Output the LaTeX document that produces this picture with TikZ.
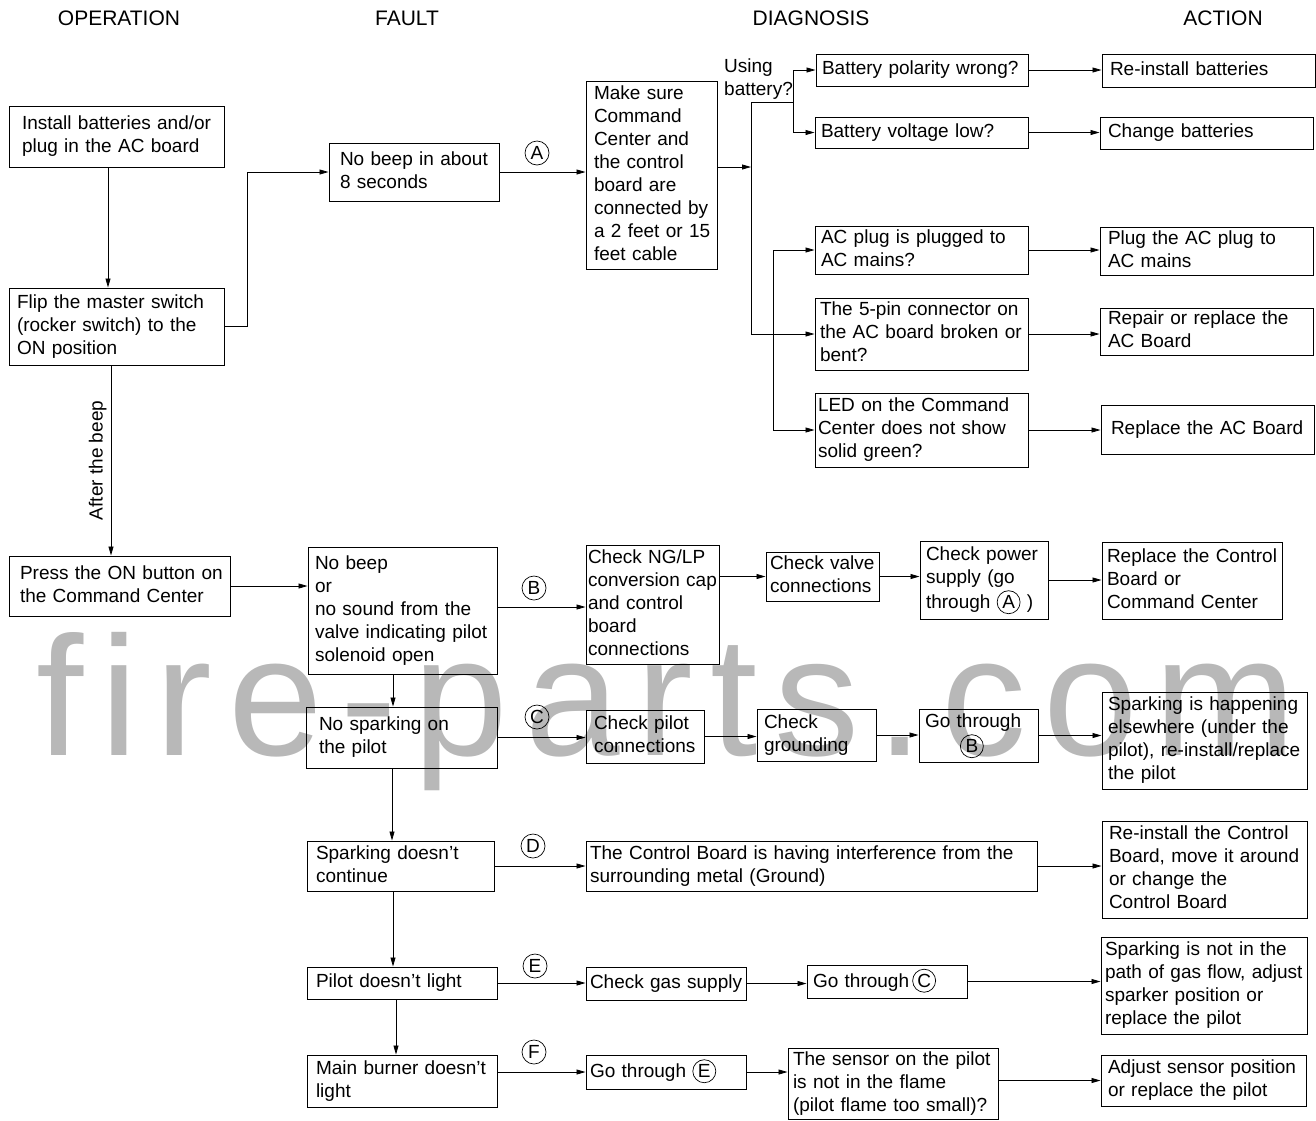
\documentclass[tikz,border=0pt]{standalone}
\usepackage{fontspec}
\setmainfont{Liberation Sans}
\usetikzlibrary{arrows.meta, positioning}

% 文本中的小圆圈字母
\newcommand{\inlbl}[2]{\tikz[baseline=(#1.base)]\node[circle, draw, line width=0.7pt, inner sep=0pt, minimum size=23pt] (#1) {#2};}
% 不换行的多行文本
\newcommand{\lns}[1]{\begin{tabular}{@{}l@{}}#1\end{tabular}}

\begin{document}
\begin{tikzpicture}[x=1pt, y=-1pt, >={Triangle[length=9pt, width=5pt]},
    box/.style={draw, line width=1pt, inner sep=0pt, align=left, font=\fontsize{19}{23}\selectfont},
    head/.style={anchor=base, font=\fontsize{21}{25}\selectfont},
    lbl/.style={circle, draw, line width=0.7pt, inner sep=0pt, minimum size=24pt, font=\fontsize{19}{23}\selectfont},
    conn/.style={line width=0.8pt, ->}]

\path[use as bounding box] (0,0) rectangle (1316,1120);

% 水印
\node[anchor=base west, inner sep=0pt, text=black!28, font=\fontsize{170}{170}\selectfont] (watermark) at (36,755) {\addfontfeature{LetterSpace=10}fire-parts.com};

% 标题
\node[head] (hop) at (119,25) {OPERATION};
\node[head] (hfault) at (407,25) {FAULT};
\node[head] (hdiag) at (811,25) {DIAGNOSIS};
\node[head] (hact) at (1223,25) {ACTION};

% 操作
\node[box, minimum width=215, minimum height=61, text width=189pt] (install) at (116.5,136.5) {\lns{Install batteries and/or\\plug in the AC board}};
\node[box, minimum width=215, minimum height=77, text width=199pt] (flip) at (116.5,326.5) {\lns{Flip the master switch\\(rocker switch) to the\\ON position}};
\node[box, minimum width=221, minimum height=60, text width=199pt] (press) at (119.5,586) {\lns{Press the ON button on\\the Command Center}};

% 故障
\node[box, minimum width=170, minimum height=58, text width=148pt] (nobeep) at (414,172) {\lns{No beep in about\\8 seconds}};
\node[box, minimum width=189, minimum height=127, text width=175pt] (nobeepor) at (402.5,610.5) {\lns{No beep\\or\\no sound from the\\valve indicating pilot\\solenoid open}};
\node[box, minimum width=191, minimum height=61, text width=165pt] (nospark) at (401.5,737.5) {\lns{No sparking on\\the pilot}};
\node[box, minimum width=187, minimum height=50, text width=169pt] (sparkcont) at (400.5,866) {\lns{Sparking doesn’t\\continue}};
\node[box, minimum width=190, minimum height=32, text width=172pt] (pilotlight) at (402,983) {\lns{Pilot doesn’t light}};
\node[box, minimum width=190, minimum height=52, text width=172pt] (mainburn) at (402,1081) {\lns{Main burner doesn’t\\light}};

% 诊断
\node[box, minimum width=131, minimum height=188, text width=115pt] (makesure) at (651.5,175) {\lns{Make sure\\Command\\Center and\\the control\\board are\\connected by\\a 2 feet or 15\\feet cable}};
\node[anchor=north west, inner sep=0pt, align=left, font=\fontsize{19}{23}\selectfont] (usebat) at (724,59) {Using\\battery?};
\node[box, minimum width=212, minimum height=32, text width=200pt] (polarity) at (922,70) {\lns{Battery polarity wrong?}};
\node[box, minimum width=213, minimum height=31, text width=201pt] (voltage) at (921.5,132.5) {\lns{Battery voltage low?}};
\node[box, minimum width=213, minimum height=48, text width=201pt] (acplug) at (921.5,250) {\lns{AC plug is plugged to\\AC mains?}};
\node[box, minimum width=213, minimum height=72, text width=203pt] (fivepin) at (921.5,334) {\lns{The 5-pin connector on\\the AC board broken or\\bent?}};
\node[box, minimum width=213, minimum height=74, text width=207pt] (led) at (921.5,430) {\lns{LED on the Command\\Center does not show\\solid green?}};

\node[box, minimum width=133, minimum height=119, text width=129pt] (checkng) at (652.5,604.5) {\lns{Check NG/LP\\conversion cap\\and control\\board\\connections}};
\node[box, minimum width=113, minimum height=49, text width=105pt] (checkvalve) at (822.5,576.5) {\lns{Check valve\\connections}};
\node[box, minimum width=128, minimum height=78, text width=116pt] (checkpower) at (984,580) {\lns{Check power\\supply (go\\through \inlbl{inA}{A} )}};

\node[box, minimum width=118, minimum height=53, text width=102pt] (checkpilot) at (645,736.5) {\lns{Check pilot\\connections}};
\node[box, minimum width=119, minimum height=52, text width=105pt] (checkground) at (816.5,735) {\lns{Check\\grounding}};
\node[box, minimum width=119, minimum height=53, text width=107pt] (gothroughB) at (978.5,735.5) {\lns{Go through\\\hspace*{35pt}\inlbl{inB}{B}}};

\node[box, minimum width=451, minimum height=50, text width=443pt] (ctrlboard) at (811.5,866) {\lns{The Control Board is having interference from the\\surrounding metal (Ground)}};

\node[box, minimum width=160, minimum height=33, text width=152pt] (checkgas) at (666,983.5) {\lns{Check gas supply}};
\node[box, minimum width=160, minimum height=33, text width=148pt] (gothroughC) at (887,981.5) {\lns{Go through\,\inlbl{inC}{C}}};

\node[box, minimum width=160, minimum height=34, text width=152pt] (gothroughE) at (666,1072) {\lns{Go through~\inlbl{inE}{E}}};
\node[box, minimum width=210, minimum height=71, text width=200pt] (sensor) at (893,1083.5) {\lns{The sensor on the pilot\\is not in the flame\\(pilot flame too small)?}};

% 处理
\node[box, minimum width=213, minimum height=33, text width=197pt] (reinst) at (1208.5,70.5) {\lns{Re-install batteries}};
\node[box, minimum width=213, minimum height=32, text width=197pt] (change) at (1206.5,133) {\lns{Change batteries}};
\node[box, minimum width=213, minimum height=48, text width=197pt] (plugac) at (1206.5,251) {\lns{Plug the AC plug to\\AC mains}};
\node[box, minimum width=213, minimum height=47, text width=197pt] (repair) at (1206.5,331.5) {\lns{Repair or replace the\\AC Board}};
\node[box, minimum width=213, minimum height=49, text width=193pt] (replaceac) at (1207.5,429.5) {\lns{Replace the AC Board}};
\node[box, minimum width=180, minimum height=77, text width=170pt] (replacectrl) at (1192,580.5) {\lns{Replace the Control\\Board or\\Command Center}};
\node[box, minimum width=205, minimum height=97, text width=193pt] (happening) at (1204.5,740.5) {\lns{Sparking is happening\\elsewhere (under the\\pilot), re-install/replace\\the pilot}};
\node[box, minimum width=205, minimum height=97, text width=191pt] (reinstctrl) at (1204.5,869.5) {\lns{Re-install the Control\\Board, move it around\\or change the\\Control Board}};
\node[box, minimum width=206, minimum height=97, text width=198pt] (sparknot) at (1204,985.5) {\lns{Sparking is not in the\\path of gas flow, adjust\\sparker position or\\replace the pilot}};
\node[box, minimum width=205, minimum height=51, text width=191pt] (adjust) at (1203.5,1080.5) {\lns{Adjust sensor position\\or replace the pilot}};

% 圆圈标记
\node[lbl] (lblA) at (537,153) {A};
\node[lbl] (lblB) at (534,588) {B};
\node[lbl] (lblC) at (537,717) {C};
\node[lbl] (lblD) at (533,846) {D};
\node[lbl] (lblE) at (535,966) {E};
\node[lbl] (lblF) at (534,1052) {F};

% 操作列连线
\draw[conn] ([xshift=-8.5pt]install.south) -- ([xshift=-8.5pt]flip.north);
\draw[conn] (flip.east) -- ++(23,0) |- (nobeep.west);
\draw[conn] ([xshift=-5.5pt]flip.south) -- ([xshift=-8.5pt]press.north)
    node[midway, rotate=90, anchor=south, inner sep=4pt, font=\fontsize{19}{23}\selectfont] (afterbeep) {After the beep};
\draw[conn] (press.east) -- (press.east -| nobeepor.west);

% 故障列连线
\draw[conn] ([xshift=-9.5pt]nobeepor.south) -- ([xshift=-8.5pt]nospark.north);
\draw[conn] ([xshift=-9.5pt]nospark.south) -- ([xshift=-8.5pt]sparkcont.north);
\draw[conn] ([xshift=-7.5pt]sparkcont.south) -- ([xshift=-9pt]pilotlight.north);
\draw[conn] ([xshift=-6pt]pilotlight.south) -- ([xshift=-6pt]mainburn.north);

\draw[conn] (nobeep.east) -- (nobeep.east -| makesure.west);
\draw[conn] ([yshift=3.5pt]nobeepor.east) -- ([yshift=3.5pt]nobeepor.east -| checkng.west);
\draw[conn] (nospark.east) -- (nospark.east -| checkpilot.west);
\draw[conn] (sparkcont.east) -- (sparkcont.east -| ctrlboard.west);
\draw[conn] (pilotlight.east) -- (pilotlight.east -| checkgas.west);
\draw[conn] (mainburn.east |- gothroughE.west) -- (gothroughE.west);

% 诊断分支
\coordinate (trunk) at (751,167);
\coordinate (battop) at (751,102);
\coordinate (batfork) at (793,102);
\coordinate (acfork) at (773,250);
\draw[conn] ([yshift=8pt]makesure.east) -- (trunk);
\draw[conn] (battop) -- (battop |- fivepin.west) -- (fivepin.west);
\draw[line width=0.8pt] (battop) -- (batfork);
\draw[conn] (batfork) |- (polarity.west);
\draw[conn] (batfork) |- (voltage.west);
\draw[conn, <->] (acplug.west) -- (acfork) |- (led.west);

\draw[conn] (polarity.east) -- (polarity.east -| reinst.west);
\draw[conn] (voltage.east) -- (voltage.east -| change.west);
\draw[conn] (acplug.east) -- (acplug.east -| plugac.west);
\draw[conn] (fivepin.east) -- (fivepin.east -| repair.west);
\draw[conn] (led.east) -- (led.east -| replaceac.west);

% 各行连线
\draw[conn] (checkvalve.west -| checkng.east) -- (checkvalve.west);
\draw[conn] (checkvalve.east) -- (checkvalve.east -| checkpower.west);
\draw[conn] (checkpower.east) -- (checkpower.east -| replacectrl.west);

\draw[conn] (checkpilot.east) -- (checkpilot.east -| checkground.west);
\draw[conn] (checkground.east) -- (checkground.east -| gothroughB.west);
\draw[conn] (gothroughB.east) -- (gothroughB.east -| happening.west);

\draw[conn] (ctrlboard.east) -- (ctrlboard.east -| reinstctrl.west);

\draw[conn] (checkgas.east) -- (checkgas.east -| gothroughC.west);
\draw[conn] (gothroughC.east) -- (gothroughC.east -| sparknot.west);

\draw[conn] (gothroughE.east) -- (gothroughE.east -| sensor.west);
\draw[conn] (adjust.west -| sensor.east) -- (adjust.west);

\end{tikzpicture}
\end{document}
